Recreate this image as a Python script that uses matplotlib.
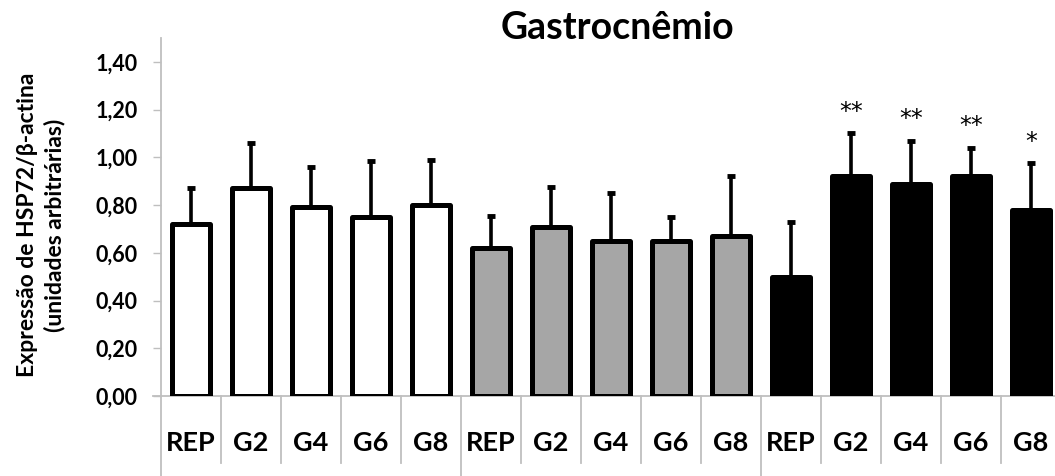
import matplotlib
matplotlib.use("Agg")
import matplotlib.pyplot as plt
import matplotlib.transforms as mtransforms

plt.rcParams['font.family'] = ['Lato', 'DejaVu Sans']

categories = ["REP", "G2", "G4", "G6", "G8",
              "REP", "G2", "G4", "G6", "G8",
              "REP", "G2", "G4", "G6", "G8"]
means = [0.72, 0.87, 0.79, 0.75, 0.80,
         0.62, 0.71, 0.65, 0.65, 0.67,
         0.50, 0.92, 0.89, 0.92, 0.78]
errors = [0.15, 0.19, 0.17, 0.235, 0.19,
          0.135, 0.165, 0.20, 0.10, 0.25,
          0.23, 0.18, 0.18, 0.12, 0.195]
group_colors = ["#ffffff", "#a6a6a6", "#000000"]
group_of_bar = [0] * 5 + [1] * 5 + [2] * 5
significance = ["", "", "", "", "",
                "", "", "", "", "",
                "", "**", "**", "**", "*"]
yticks = [0.0, 0.2, 0.4, 0.6, 0.8, 1.0, 1.2, 1.4]
title = "Gastrocnêmio"
ylabel = "Expressão de HSP72/β-actina\n(unidades arbitrárias)"

W, H = 1055, 476
fig = plt.figure(figsize=(W / 100, H / 100), dpi=100)
ax_left, ax_right = 161, 1061
ax_bottom, ax_top = 396, 38
ax = fig.add_axes([ax_left / W, (H - ax_bottom) / H,
                   (ax_right - ax_left) / W, (ax_bottom - ax_top) / H])

x = list(range(len(categories)))
colors = [group_colors[g] for g in group_of_bar]
bars = ax.bar(x, means, width=0.64, color=colors, edgecolor="black",
              linewidth=3.6, zorder=3)
for b in bars:
    b.set_joinstyle("round")
ax.errorbar(x, means, yerr=[[0] * len(errors), errors], fmt="none",
            ecolor="black", elinewidth=2.6, capsize=3.2, capthick=3.5, zorder=2)

for xi, m, e, s in zip(x, means, errors, significance):
    if s:
        ax.text(xi, m + e + 0.04, s, ha="center", va="bottom",
                fontsize=17, family="DejaVu Sans", color="black")

ax.set_xlim(-0.5, len(categories) - 0.5)
ax.set_ylim(0, 1.5)
ax.set_yticks(yticks)
ax.set_yticklabels([f"{v:.2f}".replace(".", ",") for v in yticks],
                   fontsize=15.5, fontweight="bold")
ax.tick_params(axis="y", length=6, width=1, color="#bfbfbf", pad=11)
ax.set_xticks([])

for side in ["top", "right", "bottom"]:
    ax.spines[side].set_visible(False)
ax.spines["left"].set_color("#bfbfbf")
ax.spines["left"].set_linewidth(1.3)

# baseline
ax.axhline(0, color="#bfbfbf", lw=1.3, zorder=1, clip_on=False)
ax.plot([-0.64, -0.5], [0, 0], color="#bfbfbf", lw=1.3, clip_on=False)

# category separators below the axis (table style)
trans = mtransforms.blended_transform_factory(ax.transData, fig.transFigure)
for k in range(len(categories) + 1):
    xb = k - 0.5
    long_sep = (k % 5 == 0)
    y_end = (H - 476) / H if long_sep else (H - 463) / H
    ax.plot([xb, xb], [(H - ax_bottom) / H, y_end], color="#bfbfbf", lw=1.3,
            transform=trans, clip_on=False)

for xi, c in zip(x, categories):
    ax.text(xi, (H - 443) / H, c, transform=trans, ha="center", va="center",
            fontsize=19.5, fontweight="bold")

fig.text(617 / W, (H - 28) / H, title, ha="center", va="center",
         fontsize=27, fontweight="bold")
fig.text(41 / W, (H - 225) / H, ylabel, ha="center", va="center",
         rotation=90, fontsize=16.5, fontweight="bold", linespacing=1.35)

fig.savefig("out.png", dpi=100)
